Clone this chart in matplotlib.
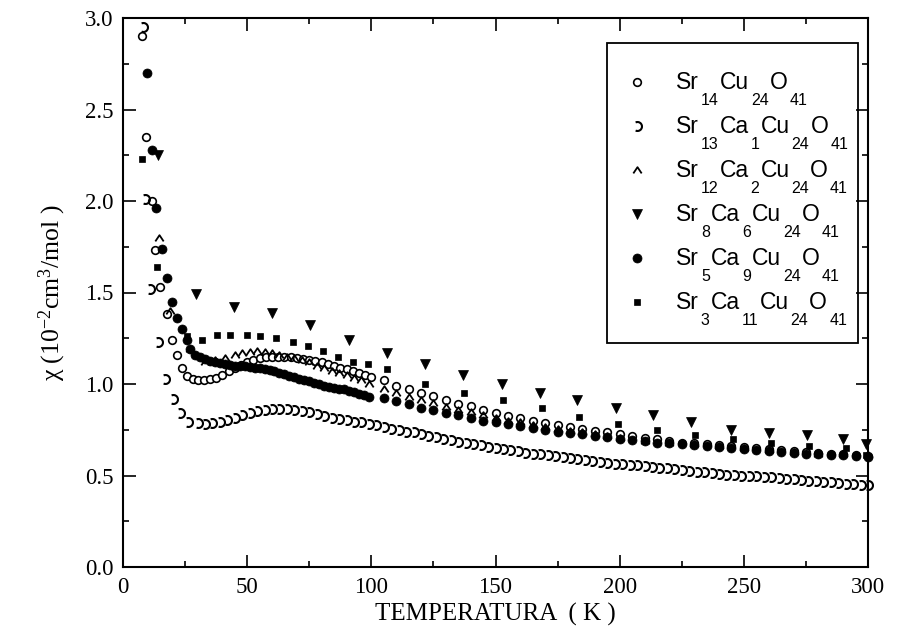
import matplotlib
matplotlib.use('Agg')
import matplotlib.pyplot as plt
from matplotlib.path import Path
from matplotlib.lines import Line2D
from matplotlib.patches import Rectangle
from matplotlib.transforms import IdentityTransform
from matplotlib.ticker import MultipleLocator, FormatStrFormatter

# ---- dados (T em K, chi em 10^-2 cm3/mol) ----
T_SR14 = [7.5, 9.3, 11.6, 12.9, 14.9, 17.6, 19.6, 21.6, 23.6, 25.6, 28.3,
          30, 32.5, 35, 37.5, 40, 42.5, 45, 47.5, 50, 52.5,
          55, 57.5, 60, 62.5, 65, 67.5, 70, 72.5, 75, 77.5,
          80, 82.5, 85, 87.5, 90, 92.5, 95, 97.5, 100,
          105, 110, 115, 120, 125, 130, 135, 140, 145, 150,
          155, 160, 165, 170, 175, 180, 185, 190, 195, 200,
          205, 210, 215, 220, 225, 230, 235, 240, 245, 250,
          255, 260, 265, 270, 275, 280, 285, 290, 295, 300]
CHI_SR14 = [2.90, 2.35, 2.00, 1.73, 1.53, 1.38, 1.24, 1.16, 1.085, 1.045, 1.025,
            1.02, 1.02, 1.025, 1.035, 1.05, 1.07, 1.09, 1.105, 1.12, 1.13,
            1.14, 1.145, 1.15, 1.15, 1.15, 1.145, 1.14, 1.135, 1.13, 1.125,
            1.12, 1.11, 1.10, 1.09, 1.08, 1.07, 1.06, 1.05, 1.04,
            1.02, 0.99, 0.975, 0.95, 0.935, 0.91, 0.89, 0.88, 0.86, 0.84,
            0.825, 0.815, 0.80, 0.785, 0.775, 0.765, 0.755, 0.745, 0.735, 0.725,
            0.715, 0.705, 0.70, 0.69, 0.68, 0.675, 0.67, 0.665, 0.66, 0.655,
            0.65, 0.645, 0.64, 0.635, 0.63, 0.625, 0.62, 0.615, 0.61, 0.605]

T_SR13 = [8.2, 8.9, 10.9, 14.2, 16.9, 20.0, 22.9, 26.3,
          30, 33, 36, 39, 42, 45, 48, 51, 54, 57,
          60, 63, 66, 69, 72, 75, 78, 81, 84, 87,
          90, 93, 96, 99, 102, 105, 108, 111, 114, 117,
          120, 123, 126, 129, 132, 135, 138, 141, 144, 147,
          150, 153, 156, 159, 162, 165, 168, 171, 174, 177,
          180, 183, 186, 189, 192, 195, 198, 201, 204, 207,
          210, 213, 216, 219, 222, 225, 228, 231, 234, 237,
          240, 243, 246, 249, 252, 255, 258, 261, 264, 267,
          270, 273, 276, 279, 282, 285, 288, 291, 294, 297, 300]
CHI_SR13 = [2.95, 2.01, 1.52, 1.23, 1.03, 0.92, 0.84, 0.79,
            0.785, 0.78, 0.785, 0.795, 0.805, 0.815, 0.83, 0.84, 0.85, 0.86,
            0.865, 0.865, 0.865, 0.86, 0.855, 0.845, 0.835, 0.825, 0.815, 0.81,
            0.805, 0.795, 0.79, 0.78, 0.775, 0.765, 0.755, 0.75, 0.74, 0.735,
            0.725, 0.715, 0.71, 0.70, 0.695, 0.685, 0.68, 0.67, 0.665, 0.655,
            0.65, 0.645, 0.64, 0.635, 0.625, 0.62, 0.615, 0.61, 0.605, 0.60,
            0.595, 0.59, 0.585, 0.58, 0.575, 0.57, 0.565, 0.565, 0.56, 0.555,
            0.55, 0.545, 0.54, 0.54, 0.535, 0.53, 0.525, 0.52, 0.52, 0.515,
            0.51, 0.505, 0.505, 0.50, 0.50, 0.495, 0.49, 0.49, 0.485, 0.48,
            0.48, 0.475, 0.47, 0.47, 0.465, 0.465, 0.46, 0.455, 0.455, 0.45, 0.45]

T_SR12 = [14.6, 19.0, 27.0,
          33, 37, 41, 45, 48, 51, 54, 57, 60, 63,
          66, 69, 72, 75, 78, 81, 84, 87, 90, 93, 96, 99,
          105, 110, 115, 120, 125, 130, 135, 140, 145, 150,
          155, 160, 165, 170, 175, 180, 185, 190, 195, 200,
          210, 220, 230, 240, 250, 260, 270, 280, 290, 300]
CHI_SR12 = [1.80, 1.40, 1.19,
            1.12, 1.13, 1.14, 1.16, 1.17, 1.175, 1.18, 1.175, 1.17, 1.16,
            1.15, 1.14, 1.13, 1.12, 1.10, 1.085, 1.07, 1.06, 1.05, 1.035, 1.02, 1.00,
            0.97, 0.95, 0.93, 0.91, 0.895, 0.875, 0.86, 0.845, 0.83, 0.815,
            0.80, 0.79, 0.775, 0.765, 0.755, 0.745, 0.735, 0.725, 0.715, 0.705,
            0.69, 0.68, 0.67, 0.66, 0.65, 0.64, 0.63, 0.62, 0.615, 0.61]

T_SR8 = [14.0, 29.3, 44.8, 60.1, 75.4, 90.9, 106.2, 121.5, 137.0, 152.5,
         168.0, 183.0, 198.5, 213.6, 228.8, 244.7, 260.3, 275.3, 289.8, 299.0]
CHI_SR8 = [2.25, 1.49, 1.42, 1.39, 1.32, 1.24, 1.17, 1.11, 1.05, 1.00,
           0.95, 0.91, 0.87, 0.83, 0.79, 0.75, 0.73, 0.72, 0.70, 0.67]

T_SR5 = [9.8, 11.6, 13.3, 15.6, 17.9, 19.6, 21.6, 23.6, 25.6, 27.0,
         29, 31, 33, 35, 37, 39, 41, 43, 45, 47, 49, 51,
         53, 55, 57, 59, 61, 63, 65, 67, 69, 71, 73, 75,
         77, 79, 81, 83, 85, 87, 89, 91, 93, 95, 97, 99,
         105, 110, 115, 120, 125, 130, 135, 140, 145, 150,
         155, 160, 165, 170, 175, 180, 185, 190, 195, 200,
         205, 210, 215, 220, 225, 230, 235, 240, 245, 250,
         255, 260, 265, 270, 275, 280, 285, 290, 295, 300]
CHI_SR5 = [2.70, 2.28, 1.96, 1.74, 1.58, 1.45, 1.36, 1.30, 1.24, 1.19,
           1.16, 1.145, 1.135, 1.125, 1.12, 1.115, 1.11, 1.105, 1.10, 1.10, 1.10, 1.095,
           1.09, 1.085, 1.08, 1.075, 1.07, 1.06, 1.055, 1.045, 1.04, 1.03, 1.02, 1.015,
           1.005, 1.00, 0.99, 0.985, 0.98, 0.975, 0.97, 0.96, 0.955, 0.945, 0.94, 0.93,
           0.925, 0.905, 0.89, 0.87, 0.86, 0.84, 0.83, 0.815, 0.80, 0.79,
           0.78, 0.77, 0.76, 0.75, 0.74, 0.73, 0.725, 0.715, 0.71, 0.70,
           0.695, 0.69, 0.68, 0.675, 0.67, 0.665, 0.66, 0.655, 0.65, 0.645,
           0.64, 0.635, 0.63, 0.625, 0.62, 0.615, 0.61, 0.61, 0.605, 0.60]

T_SR3 = [7.8, 13.6, 25.9, 31.7, 37.7, 43.0, 49.8, 55.2, 61.8, 68.3,
         74.4, 80.4, 86.7, 92.5, 98.5, 106.2, 121.6, 137.5, 153.0, 168.6,
         183.5, 199.5, 215.0, 230.4, 245.8, 261.0, 276.4, 291.0, 299.0]
CHI_SR3 = [2.23, 1.64, 1.26, 1.24, 1.27, 1.27, 1.27, 1.26, 1.25, 1.23,
           1.21, 1.18, 1.15, 1.12, 1.11, 1.08, 1.00, 0.95, 0.91, 0.87,
           0.82, 0.78, 0.75, 0.72, 0.70, 0.68, 0.66, 0.65, 0.61]

# marcadores especiais
GANCHO = Path.arc(-115, 115)
CIRCUNFLEXO = Path([(-1, -0.7), (0, 0.8), (1, -0.7)],
                   [Path.MOVETO, Path.LINETO, Path.LINETO])

ESTILOS = [
    dict(marker='o', ms=5.5, mfc='white', mec='black', mew=1.2),
    dict(marker=GANCHO, ms=6.5, mfc='none', mec='black', mew=1.5),
    dict(marker=CIRCUNFLEXO, ms=6, mfc='none', mec='black', mew=1.3),
    dict(marker='v', ms=6.5, mfc='black', mec='black', mew=0.5),
    dict(marker='o', ms=6.5, mfc='black', mec='black', mew=0.5),
    dict(marker='s', ms=5, mfc='black', mec='black', mew=0.5),
]
SERIES = [(T_SR14, CHI_SR14), (T_SR13, CHI_SR13), (T_SR12, CHI_SR12),
          (T_SR8, CHI_SR8), (T_SR5, CHI_SR5), (T_SR3, CHI_SR3)]
LEGENDAS = [
    [('Sr', '14'), ('Cu', '24'), ('O', '41')],
    [('Sr', '13'), ('Ca', '1'), ('Cu', '24'), ('O', '41')],
    [('Sr', '12'), ('Ca', '2'), ('Cu', '24'), ('O', '41')],
    [('Sr', '8'), ('Ca', '6'), ('Cu', '24'), ('O', '41')],
    [('Sr', '5'), ('Ca', '9'), ('Cu', '24'), ('O', '41')],
    [('Sr', '3'), ('Ca', '11'), ('Cu', '24'), ('O', '41')],
]

plt.rcParams['font.family'] = 'Liberation Serif'
plt.rcParams['mathtext.default'] = 'regular'

W, H = 902, 642
fig = plt.figure(figsize=(W / 100, H / 100), dpi=100)
ax = fig.add_axes([123 / W, 75 / H, 745 / W, 549 / H])

for (t, chi), est in zip(SERIES, ESTILOS):
    ax.plot(t, chi, ls='none', zorder=3, clip_on=False, **est)

ax.set_xlim(0, 300)
ax.set_ylim(0, 3.0)
ax.xaxis.set_major_locator(MultipleLocator(50))
ax.xaxis.set_minor_locator(MultipleLocator(25))
ax.yaxis.set_major_locator(MultipleLocator(0.5))
ax.yaxis.set_minor_locator(MultipleLocator(0.25))
ax.yaxis.set_major_formatter(FormatStrFormatter('%.1f'))
ax.tick_params(which='both', direction='in', top=True, right=True, width=1.2)
ax.tick_params(which='major', length=9, labelsize=16.5, pad=7)
ax.tick_params(which='minor', length=4.5)
for sp in ax.spines.values():
    sp.set_linewidth(1.5)

ax.set_xlabel('TEMPERATURA  ( K )', fontsize=18, labelpad=4)
ax.set_ylabel('χ (10$^{-2}$cm$^{3}$/mol )', fontsize=18.5, labelpad=12)

# ---- legenda feita a mao (subscritos deslocados como no original) ----
ident = IdentityTransform()
fig.add_artist(Rectangle((607, H - 343), 251, 300, transform=ident,
                         fill=False, lw=1.3, ec='black'))
renderer = fig.canvas.get_renderer()
for i, (pecas, est) in enumerate(zip(LEGENDAS, ESTILOS)):
    y_base = H - (89 + 44 * i)
    fig.add_artist(Line2D([637], [y_base + 7], transform=ident, ls='none', **est))
    x = 676
    for elem, sub in pecas:
        t = fig.text(x, y_base, elem, transform=ident, fontsize=16.5,
                     family='Liberation Sans', va='baseline', ha='left')
        x = t.get_window_extent(renderer).x1 + 2
        s = fig.text(x, y_base - 16, sub, transform=ident, fontsize=11.5,
                     family='Liberation Sans', va='baseline', ha='left')
        x = s.get_window_extent(renderer).x1 + 1

fig.savefig('out.png', dpi=100)
